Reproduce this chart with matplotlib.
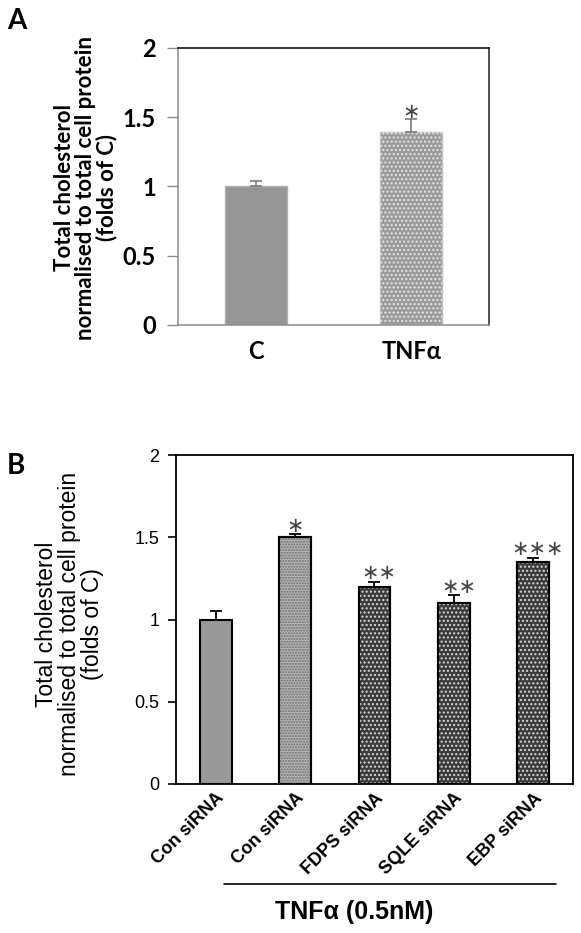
import numpy as np
import matplotlib
matplotlib.use("Agg")
import matplotlib.pyplot as plt

# --- données ---
# panneau A
cat_a = ["C", "TNFα"]
val_a = [1.0, 1.39]
err_a = [0.04, 0.10]
sig_a = ["", "∗"]

# panneau B
cat_b = ["Con siRNA", "Con siRNA", "FDPS siRNA", "SQLE siRNA", "EBP siRNA"]
val_b = [1.0, 1.5, 1.195, 1.1, 1.347]
err_b = [0.05, 0.02, 0.035, 0.05, 0.03]
sig_b = ["", "∗", "∗∗", "∗∗", "∗∗∗"]

ylabel = "Total cholesterol\nnormalised to total cell protein\n(folds of C)"
yticks = [0, 0.5, 1, 1.5, 2]
yticklabels = ["0", "0.5", "1", "1.5", "2"]

plt.rcParams['hatch.linewidth'] = 1.0

fig = plt.figure(figsize=(5.81, 9.33), dpi=100)

# ---------------- panneau A ----------------
axA = fig.add_axes([0.3064, 0.6517, 0.5353, 0.2969])
xa = np.arange(len(cat_a))
axA.bar(xa[0], val_a[0], width=0.4, color="#969696", edgecolor="#b0b0b0", linewidth=1)
axA.bar(xa[1], val_a[1], width=0.4, color="#9c9c9c", edgecolor="#c0c0c0", linewidth=1)
# motif pointillé
axA.bar(xa[1], val_a[1], width=0.4, color="none", edgecolor="#e4e4e4", hatch="....", linewidth=0)
axA.errorbar(xa, val_a, yerr=[np.zeros(len(val_a)), err_a], fmt="none",
             ecolor="#7a7a7a", elinewidth=1.2, capsize=4, capthick=1.2)
for x, v, e, s in zip(xa, val_a, err_a, sig_a):
    if s:
        axA.annotate(s, xy=(x, v + e), xytext=(0, 5), textcoords="offset points",
                     ha="center", va="center", fontsize=15, color="#444444",
                     family="DejaVu Sans")
axA.set_xlim(-0.5, 1.5)
axA.set_ylim(0, 2)
axA.set_yticks(yticks)
axA.set_yticklabels(yticklabels)
axA.set_xticks(xa)
axA.set_xticklabels(cat_a)
axA.tick_params(axis="y", direction="out", length=8, width=1, color="#8c8c8c", pad=8)
axA.tick_params(axis="x", length=0, pad=11)
for lab in axA.get_yticklabels() + axA.get_xticklabels():
    lab.set_family("Lato")
    lab.set_fontweight("bold")
    lab.set_fontsize(17)
axA.spines["left"].set_color("#8c8c8c")
axA.spines["bottom"].set_color("#8c8c8c")
axA.spines["top"].set_color("#000000")
axA.spines["right"].set_color("#222222")
for sp in axA.spines.values():
    sp.set_linewidth(1.1)
fig.text(0.147, 0.7985, ylabel, rotation=90, ha="center", va="center",
         multialignment="center", fontsize=16, fontweight="bold",
         family="Lato", linespacing=1.0)
fig.text(0.012, 0.978, "A", fontsize=20, fontweight="bold", family="Lato",
         ha="left", va="center")

# ---------------- panneau B ----------------
axB = fig.add_axes([0.3029, 0.1597, 0.6833, 0.3526])
xb = np.arange(len(cat_b))
styles = [("#999999", None, None),
          ("#b4b4b4", "#6e6e6e", "......"),
          ("#3c3c3c", "#d8d8d8", "...."),
          ("#3c3c3c", "#d8d8d8", "...."),
          ("#3c3c3c", "#d8d8d8", "....")]
for x, v, (fc, hc, h) in zip(xb, val_b, styles):
    axB.bar(x, v, width=0.4, color=fc, edgecolor="black", linewidth=1.5, zorder=2)
    if h:
        axB.bar(x, v, width=0.4, color="none", edgecolor=hc, hatch=h, linewidth=0, zorder=2)
        axB.bar(x, v, width=0.4, color="none", edgecolor="black", linewidth=1.5, zorder=2)
axB.errorbar(xb, val_b, yerr=[np.zeros(len(val_b)), err_b], fmt="none",
             ecolor="black", elinewidth=1.3, capsize=4, capthick=1.3, zorder=1)
for x, v, e, s in zip(xb, val_b, err_b, sig_b):
    if s:
        axB.annotate(s, xy=(x + 0.06 * (len(s) > 1), v + e), xytext=(0, 6),
                     textcoords="offset points", ha="center", va="center",
                     fontsize=15, color="#444444", family="DejaVu Sans")
axB.set_xlim(-0.5, 4.5)
axB.set_ylim(0, 2)
axB.set_yticks(yticks)
axB.set_yticklabels(yticklabels, fontsize=13, family="Liberation Sans")
axB.set_xticks(xb)
axB.set_xticklabels(cat_b, rotation=45, ha="right", va="top", rotation_mode="anchor",
                    fontsize=13, fontweight="bold", family="Liberation Sans")
axB.tick_params(axis="y", direction="out", length=6, width=1.2, pad=6)
axB.tick_params(axis="x", length=0, pad=4)
for sp in axB.spines.values():
    sp.set_linewidth(1.3)
    sp.set_color("black")
# trait sous les conditions TNFα
axB.annotate("", xy=(4.32, -0.304), xytext=(0.07, -0.304),
             xycoords=("data", "axes fraction"), textcoords=("data", "axes fraction"),
             arrowprops=dict(arrowstyle="-", color="black", lw=1.2), annotation_clip=False)
axB.text(1.75, -0.389, "TNFα (0.5nM)", transform=axB.get_xaxis_transform(),
         ha="center", va="center", fontsize=18, fontweight="bold", family="Liberation Sans")
fig.text(0.119, 0.331, ylabel, rotation=90, ha="center", va="center",
         multialignment="center", fontsize=16.5, family="Liberation Sans", linespacing=1.0)
fig.text(0.012, 0.501, "B", fontsize=20, fontweight="bold", family="Lato",
         ha="left", va="center")

fig.savefig("out.png", dpi=100)
